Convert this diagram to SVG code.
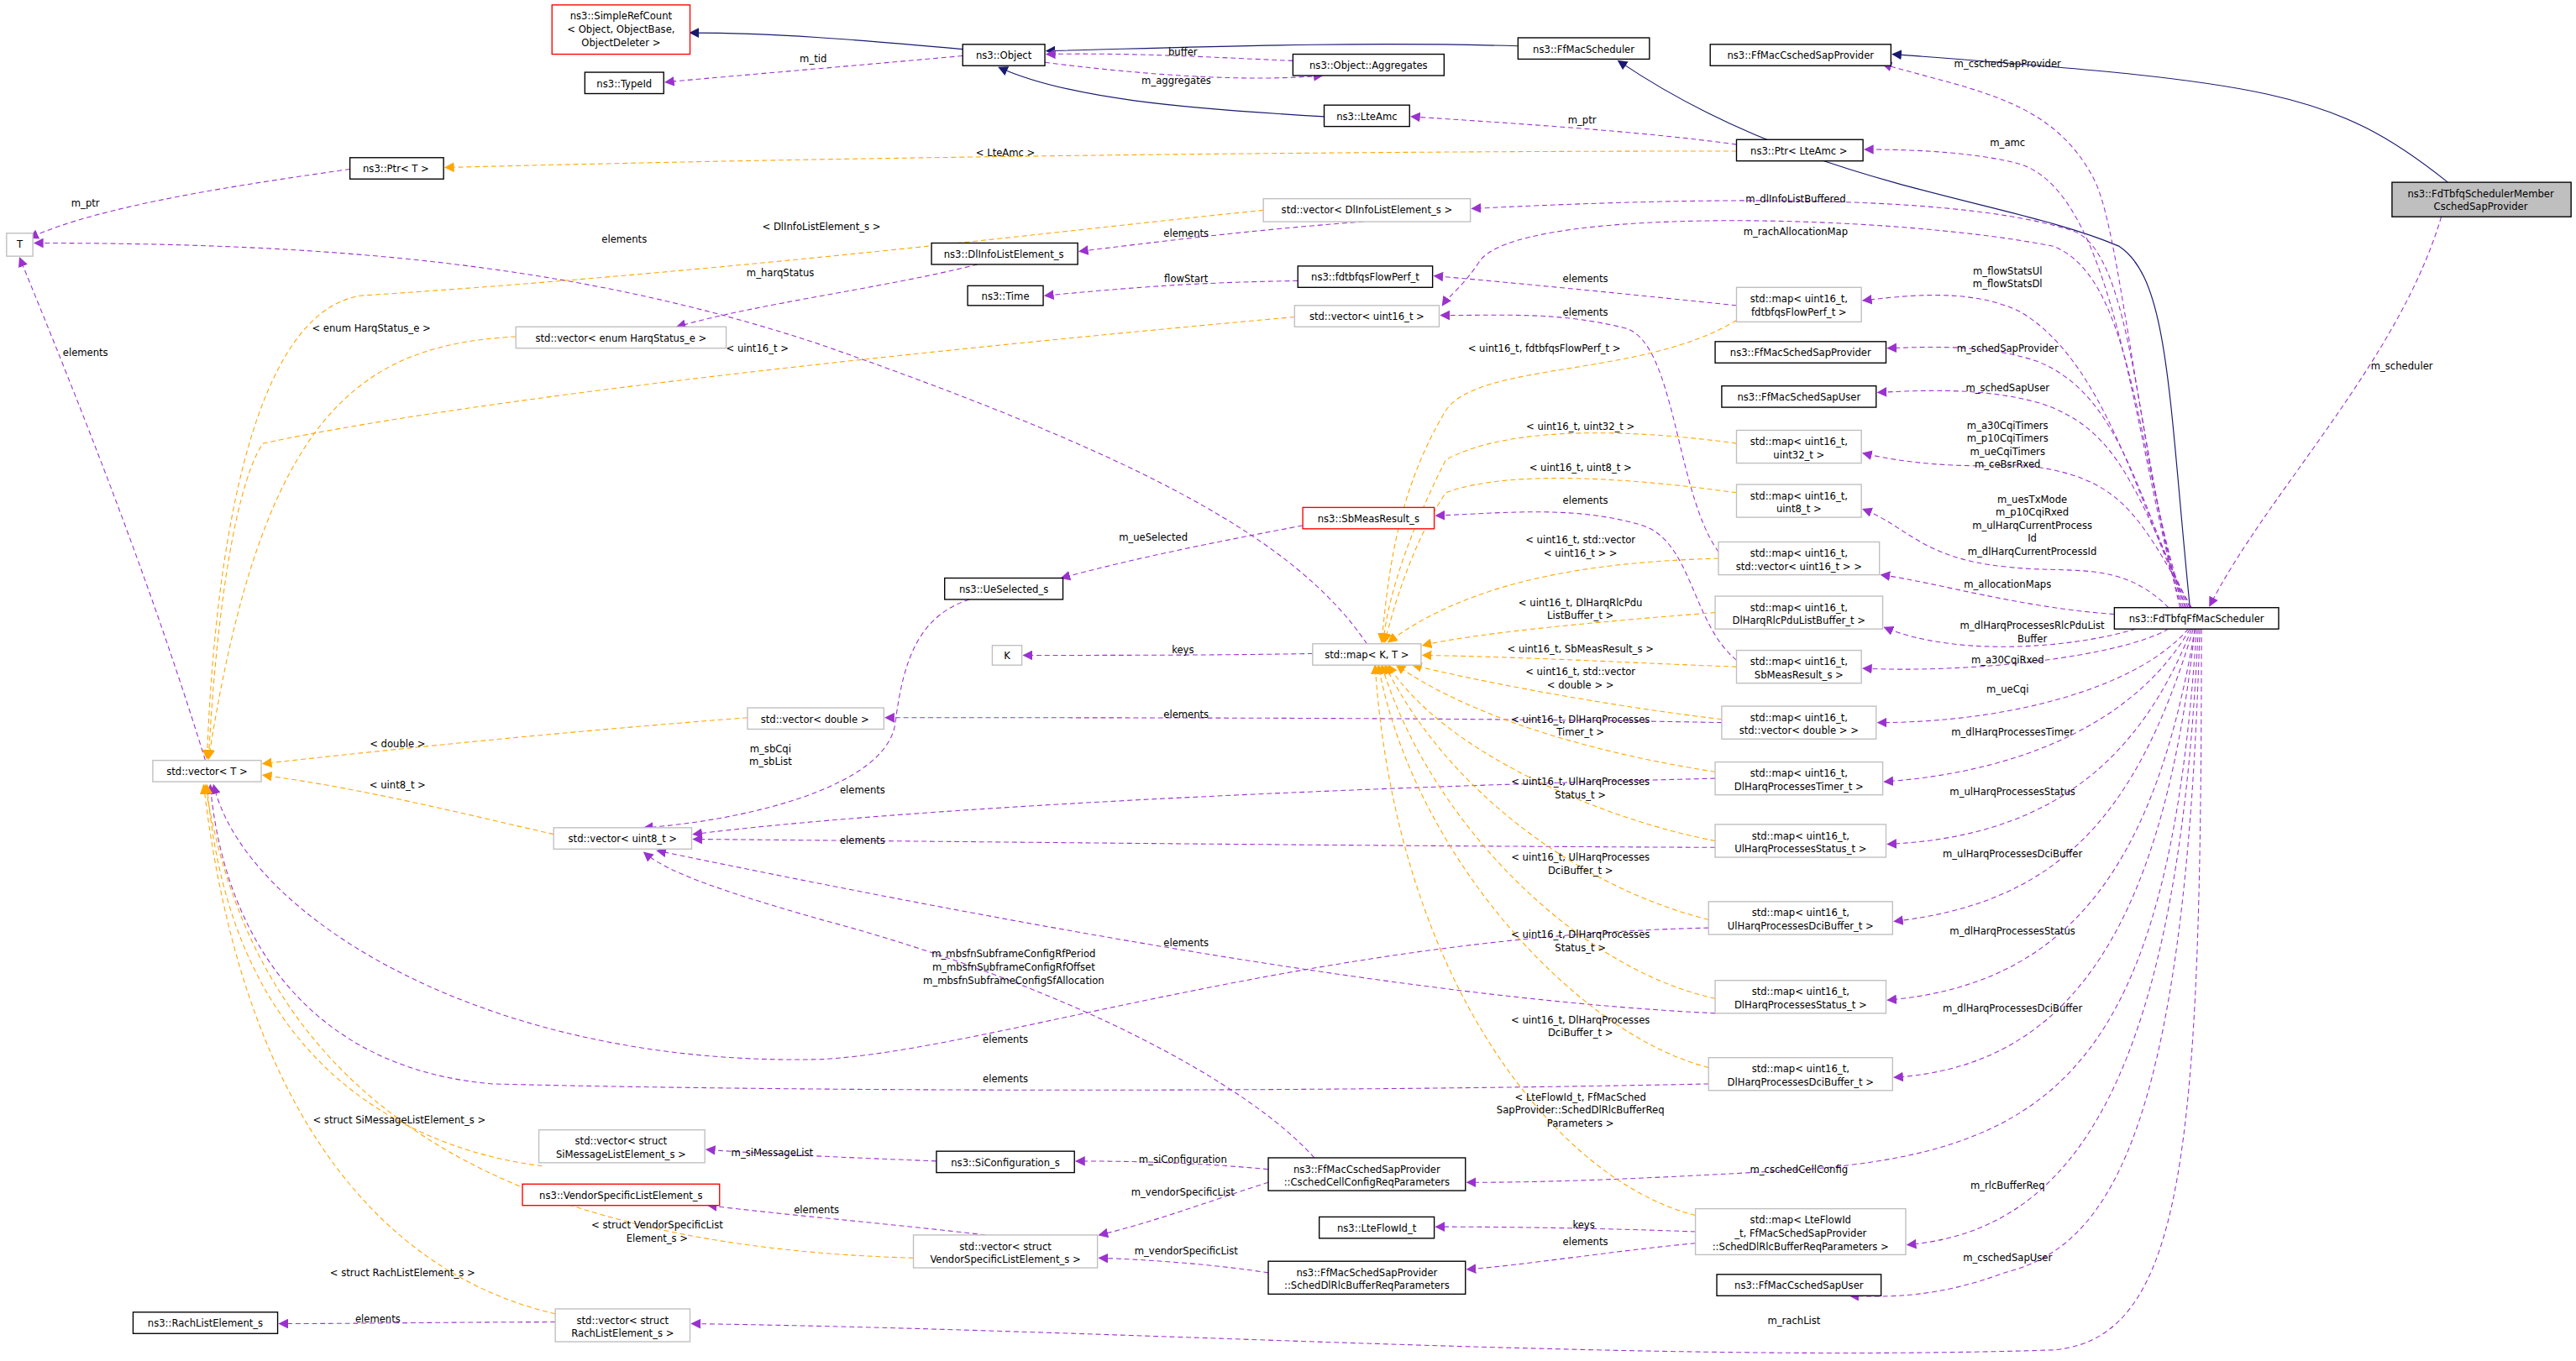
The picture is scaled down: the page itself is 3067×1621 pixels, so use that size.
<svg xmlns="http://www.w3.org/2000/svg" width="3067" height="1621" viewBox="0 0 3067 1621">
<style>
text{font-family:"DejaVu Sans Condensed","DejaVu Sans",sans-serif;font-size:6.6px;fill:#000;text-anchor:middle}
.n rect{fill:#fff;stroke:#000;stroke-width:0.7}
.g rect{fill:#fff;stroke:#bfbfbf;stroke-width:0.7}
.r rect{fill:#fff;stroke:#ff0000;stroke-width:0.7}
.m rect{fill:#bfbfbf;stroke:#000;stroke-width:0.7}
.p{fill:none;stroke:#9a32cd;stroke-width:0.55;stroke-dasharray:3,2;marker-end:url(#ap)}
.o{fill:none;stroke:#ffa500;stroke-width:0.55;stroke-dasharray:3,2;marker-end:url(#ao)}
.b{fill:none;stroke:#191970;stroke-width:0.6;marker-end:url(#ab)}
</style>
<defs>
<marker id="ap" viewBox="0 0 10 10" refX="9" refY="5" markerWidth="6" markerHeight="6" markerUnits="userSpaceOnUse" orient="auto"><path d="M0,0 L10,5 L0,10 z" fill="#9a32cd"/></marker>
<marker id="ao" viewBox="0 0 10 10" refX="9" refY="5" markerWidth="6" markerHeight="6" markerUnits="userSpaceOnUse" orient="auto"><path d="M0,0 L10,5 L0,10 z" fill="#ffa500"/></marker>
<marker id="ab" viewBox="0 0 10 10" refX="9" refY="5" markerWidth="6" markerHeight="6" markerUnits="userSpaceOnUse" orient="auto"><path d="M0,0 L10,5 L0,10 z" fill="#191970"/></marker>
</defs>
<rect width="3067" height="1621" fill="#fff"/>
<g transform="scale(1.956)">
<g id="connectors">
<path class="b" d="M586,30 C520,24 470,20 420,20"/>
<path class="b" d="M924,28 C820,25 720,29 637,31"/>
<path class="b" d="M806,71 C720,66 650,60 608,41"/>
<path class="b" d="M1333,370 C1320,240 1320,170 1290,150 C1220,120 1100,115 985,37"/>
<path class="b" d="M1490,111 C1420,55 1380,50 1152,33"/>
<path class="p" d="M1486,132 C1460,220 1380,300 1345,369"/>
<path class="p" d="M586,34 C520,40 460,45 405,50"/>
<path class="p" d="M787,37 C740,35 690,32 637,33"/>
<path class="p" d="M636,38 C700,46 760,50 805,46"/>
<path class="p" d="M1057,88 C1000,80 920,75 859,71"/>
<path class="p" d="M213,103 C150,112 60,125 18,145"/>
<path class="p" d="M1327,370 C1300,260 1290,140 1275,110 C1250,60 1200,55 1146,39"/>
<path class="p" d="M1328,370 C1300,280 1290,120 1230,100 C1200,92 1160,91 1135,91"/>
<path class="p" d="M1329,370 C1300,280 1300,150 1260,140 C1180,115 1000,122 896,127"/>
<path class="p" d="M1330,370 C1300,280 1300,170 1250,150 C1150,130 920,125 900,160 C890,175 882,180 878,186"/>
<path class="p" d="M1331,370 C1300,300 1280,220 1230,190 C1200,175 1160,180 1134,183"/>
<path class="p" d="M1332,370 C1300,300 1290,240 1240,220 C1210,210 1180,211 1149,212"/>
<path class="p" d="M1333,370 C1300,300 1290,260 1240,245 C1210,237 1180,237 1143,239"/>
<path class="p" d="M1334,370 C1300,310 1290,290 1230,283 C1190,285 1160,282 1134,276"/>
<path class="p" d="M1320,370 C1290,340 1260,350 1220,345 C1170,340 1160,320 1134,310"/>
<path class="p" d="M1287,374 C1230,370 1180,355 1145,350"/>
<path class="p" d="M1300,383 C1260,395 1190,400 1147,382"/>
<path class="p" d="M1320,383 C1290,400 1200,410 1134,407"/>
<path class="p" d="M1332,383 C1300,420 1220,440 1143,440"/>
<path class="p" d="M1333,383 C1300,440 1230,470 1147,476"/>
<path class="p" d="M1334,383 C1300,470 1240,510 1149,514"/>
<path class="p" d="M1335,383 C1300,500 1250,550 1153,561"/>
<path class="p" d="M1336,383 C1310,540 1250,600 1149,609"/>
<path class="p" d="M1336,383 C1315,580 1250,650 1153,656"/>
<path class="p" d="M1337,383 C1320,650 1250,700 1100,712 C1000,718 940,720 893,720"/>
<path class="p" d="M1338,383 C1325,680 1250,750 1161,758"/>
<path class="p" d="M1339,383 C1330,700 1280,760 1220,775 C1180,790 1150,790 1126,789"/>
<path class="p" d="M1340,383 C1340,700 1330,815 1250,822 C1000,830 700,810 421,806"/>
<path class="p" d="M1057,186 C1000,180 920,172 873,168"/>
<path class="p" d="M790,171 C720,172 680,176 636,180"/>
<path class="p" d="M830,135 C760,140 700,148 657,153"/>
<path class="p" d="M595,161 C540,175 460,185 412,199"/>
<path class="p" d="M1046,336 C1020,300 1020,210 990,200 C950,190 920,192 877,192"/>
<path class="p" d="M1057,402 C1030,380 1030,330 1000,320 C960,308 920,312 874,314"/>
<path class="p" d="M793,320 C740,330 690,340 646,352"/>
<path class="p" d="M799,398 C740,399 680,399 623,399"/>
<path class="p" d="M832,392 C790,330 700,280 500,210 C350,160 200,148 21,148"/>
<path class="p" d="M590,365 C560,375 550,400 545,440 C540,480 450,500 392,504"/>
<path class="p" d="M1048,440 C900,437 700,437 539,437"/>
<path class="p" d="M1044,474 C800,480 550,492 422,508"/>
<path class="p" d="M1044,516 C800,515 550,512 422,511"/>
<path class="p" d="M1044,617 C900,610 700,580 400,518"/>
<path class="p" d="M1040,565 C800,570 600,640 500,645 C300,650 150,560 130,478"/>
<path class="p" d="M1040,660 C800,665 500,665 300,660 C180,650 135,560 128,478"/>
<path class="p" d="M125,463 C90,350 50,250 12,157"/>
<path class="p" d="M570,707 C520,705 470,703 430,700"/>
<path class="p" d="M772,712 C730,708 690,707 655,707"/>
<path class="p" d="M800,705 C760,660 650,600 500,560 C430,540 405,530 392,519"/>
<path class="p" d="M772,720 C740,730 700,745 669,752"/>
<path class="p" d="M772,775 C740,770 700,767 669,766"/>
<path class="p" d="M600,752 C540,745 480,740 431,734"/>
<path class="p" d="M1032,750 C980,748 920,747 874,747"/>
<path class="p" d="M1032,757 C980,762 930,770 893,773"/>
<path class="p" d="M338,805 C280,805 220,806 170,806"/>
<path class="o" d="M1057,92 C800,92 500,96 271,102"/>
<path class="o" d="M769,128 C650,140 450,165 220,180 C150,190 130,350 126,462"/>
<path class="o" d="M314,205 C220,210 160,250 127,462"/>
<path class="o" d="M788,193 C600,210 300,240 160,270 C140,300 130,400 127,462"/>
<path class="o" d="M455,437 C350,445 250,455 160,465"/>
<path class="o" d="M337,508 C280,495 220,480 160,472"/>
<path class="o" d="M330,710 C250,700 140,650 126,478"/>
<path class="o" d="M556,766 C350,760 160,700 125,478"/>
<path class="o" d="M338,800 C250,780 150,700 124,478"/>
<path class="o" d="M1057,195 C1000,230 900,220 880,250 C850,300 845,350 841,391"/>
<path class="o" d="M1057,270 C1000,262 920,258 880,280 C860,320 845,360 842,391"/>
<path class="o" d="M1057,300 C1000,292 920,285 880,300 C860,330 848,370 843,391"/>
<path class="o" d="M1046,340 C980,342 900,350 845,391"/>
<path class="o" d="M1044,373 C980,378 900,385 866,393"/>
<path class="o" d="M1057,406 C1000,404 930,400 866,399"/>
<path class="o" d="M1048,438 C980,430 900,415 860,405"/>
<path class="o" d="M1044,470 C980,460 900,440 850,405"/>
<path class="o" d="M1044,512 C980,500 880,460 845,405"/>
<path class="o" d="M1040,560 C960,540 880,480 843,405"/>
<path class="o" d="M1044,608 C960,590 870,500 841,405"/>
<path class="o" d="M1040,650 C960,630 860,520 839,405"/>
<path class="o" d="M1032,740 C950,720 850,600 837,405"/>
</g>
<g id="labels">
<text x="495" y="38">m_tid</text>
<text x="720" y="34">buffer</text>
<text x="716" y="51">m_aggregates</text>
<text x="963" y="75">m_ptr</text>
<text x="52" y="126">m_ptr</text>
<text x="1222" y="41">m_cschedSapProvider</text>
<text x="1222" y="89">m_amc</text>
<text x="1093" y="123">m_dlInfoListBuffered</text>
<text x="1093" y="143">m_rachAllocationMap</text>
<text x="1222" y="167">m_flowStatsUl</text>
<text x="1222" y="175">m_flowStatsDl</text>
<text x="1222" y="214">m_schedSapProvider</text>
<text x="1222" y="238">m_schedSapUser</text>
<text x="1222" y="261">m_a30CqiTimers</text>
<text x="1222" y="269">m_p10CqiTimers</text>
<text x="1222" y="277">m_ueCqiTimers</text>
<text x="1222" y="285">m_ceBsrRxed</text>
<text x="1237" y="306">m_uesTxMode</text>
<text x="1237" y="314">m_p10CqiRxed</text>
<text x="1237" y="322">m_ulHarqCurrentProcess</text>
<text x="1237" y="330">Id</text>
<text x="1237" y="338">m_dlHarqCurrentProcessId</text>
<text x="1222" y="358">m_allocationMaps</text>
<text x="1237" y="383">m_dlHarqProcessesRlcPduList</text>
<text x="1237" y="391">Buffer</text>
<text x="1222" y="404">m_a30CqiRxed</text>
<text x="1222" y="422">m_ueCqi</text>
<text x="1225" y="448">m_dlHarqProcessesTimer</text>
<text x="1225" y="484">m_ulHarqProcessesStatus</text>
<text x="1225" y="522">m_ulHarqProcessesDciBuffer</text>
<text x="1225" y="569">m_dlHarqProcessesStatus</text>
<text x="1225" y="616">m_dlHarqProcessesDciBuffer</text>
<text x="1095" y="714">m_cschedCellConfig</text>
<text x="1222" y="724">m_rlcBufferReq</text>
<text x="1222" y="768">m_cschedSapUser</text>
<text x="1092" y="806">m_rachList</text>
<text x="1462" y="225">m_scheduler</text>
<text x="965" y="172">elements</text>
<text x="722" y="172">flowStart</text>
<text x="722" y="144">elements</text>
<text x="475" y="168">m_harqStatus</text>
<text x="965" y="192">elements</text>
<text x="965" y="307">elements</text>
<text x="702" y="329">m_ueSelected</text>
<text x="720" y="398">keys</text>
<text x="380" y="148">elements</text>
<text x="469" y="458">m_sbCqi</text>
<text x="469" y="466">m_sbList</text>
<text x="722" y="437">elements</text>
<text x="525" y="483">elements</text>
<text x="525" y="514">elements</text>
<text x="722" y="576">elements</text>
<text x="612" y="635">elements</text>
<text x="612" y="659">elements</text>
<text x="52" y="217">elements</text>
<text x="470" y="704">m_siMessageList</text>
<text x="720" y="708">m_siConfiguration</text>
<text x="617" y="583">m_mbsfnSubframeConfigRfPeriod</text>
<text x="617" y="591">m_mbsfnSubframeConfigRfOffset</text>
<text x="617" y="599">m_mbsfnSubframeConfigSfAllocation</text>
<text x="720" y="728">m_vendorSpecificList</text>
<text x="722" y="764">m_vendorSpecificList</text>
<text x="497" y="739">elements</text>
<text x="964" y="748">keys</text>
<text x="965" y="758">elements</text>
<text x="230" y="805">elements</text>
<text x="612" y="95">&lt; LteAmc &gt;</text>
<text x="500" y="140">&lt; DlInfoListElement_s &gt;</text>
<text x="226" y="202">&lt; enum HarqStatus_e &gt;</text>
<text x="461" y="214">&lt; uint16_t &gt;</text>
<text x="242" y="455">&lt; double &gt;</text>
<text x="242" y="480">&lt; uint8_t &gt;</text>
<text x="243" y="684">&lt; struct SiMessageListElement_s &gt;</text>
<text x="400" y="748">&lt; struct VendorSpecificList</text>
<text x="400" y="756">Element_s &gt;</text>
<text x="245" y="777">&lt; struct RachListElement_s &gt;</text>
<text x="940" y="214">&lt; uint16_t, fdtbfqsFlowPerf_t &gt;</text>
<text x="962" y="262">&lt; uint16_t, uint32_t &gt;</text>
<text x="962" y="287">&lt; uint16_t, uint8_t &gt;</text>
<text x="962" y="331">&lt; uint16_t, std::vector</text>
<text x="962" y="339">&lt; uint16_t &gt; &gt;</text>
<text x="962" y="369">&lt; uint16_t, DlHarqRlcPdu</text>
<text x="962" y="377">ListBuffer_t &gt;</text>
<text x="962" y="397">&lt; uint16_t, SbMeasResult_s &gt;</text>
<text x="962" y="411">&lt; uint16_t, std::vector</text>
<text x="962" y="419">&lt; double &gt; &gt;</text>
<text x="962" y="440">&lt; uint16_t, DlHarqProcesses</text>
<text x="962" y="448">Timer_t &gt;</text>
<text x="962" y="478">&lt; uint16_t, UlHarqProcesses</text>
<text x="962" y="486">Status_t &gt;</text>
<text x="962" y="524">&lt; uint16_t, UlHarqProcesses</text>
<text x="962" y="532">DciBuffer_t &gt;</text>
<text x="962" y="571">&lt; uint16_t, DlHarqProcesses</text>
<text x="962" y="579">Status_t &gt;</text>
<text x="962" y="623">&lt; uint16_t, DlHarqProcesses</text>
<text x="962" y="631">DciBuffer_t &gt;</text>
<text x="962" y="670">&lt; LteFlowId_t, FfMacSched</text>
<text x="962" y="678">SapProvider::SchedDlRlcBufferReq</text>
<text x="962" y="686">Parameters &gt;</text>
</g>
<g id="n1" class="r"><rect x="336" y="3" width="84" height="30"/><text x="378" y="12">ns3::SimpleRefCount</text><text x="378" y="20">&lt; Object, ObjectBase,</text><text x="378" y="28">ObjectDeleter &gt;</text></g>
<g id="n2" class="n"><rect x="356" y="44" width="48" height="13"/><text x="380" y="53">ns3::TypeId</text></g>
<g id="n3" class="n"><rect x="586" y="27" width="50" height="13"/><text x="611" y="36">ns3::Object</text></g>
<g id="n4" class="n"><rect x="787" y="33" width="92" height="13"/><text x="833" y="42">ns3::Object::Aggregates</text></g>
<g id="n5" class="n"><rect x="806" y="64" width="52" height="13"/><text x="832" y="73">ns3::LteAmc</text></g>
<g id="n6" class="n"><rect x="924" y="23" width="80" height="13"/><text x="964" y="32">ns3::FfMacScheduler</text></g>
<g id="n7" class="n"><rect x="1041" y="27" width="110" height="13"/><text x="1096" y="36">ns3::FfMacCschedSapProvider</text></g>
<g id="n8" class="m"><rect x="1456" y="111" width="109" height="21"/><text x="1510" y="120">ns3::FdTbfqSchedulerMember</text><text x="1510" y="128">CschedSapProvider</text></g>
<g id="n9" class="n"><rect x="1057" y="85" width="77" height="13"/><text x="1095" y="94">ns3::Ptr&lt; LteAmc &gt;</text></g>
<g id="n10" class="n"><rect x="213" y="96" width="57" height="13"/><text x="241" y="105">ns3::Ptr&lt; T &gt;</text></g>
<g id="n11" class="g"><rect x="4" y="142" width="16" height="14"/><text x="12" y="151">T</text></g>
<g id="n12" class="g"><rect x="769" y="121" width="126" height="14"/><text x="832" y="130">std::vector&lt; DlInfoListElement_s &gt;</text></g>
<g id="n13" class="n"><rect x="567" y="148" width="89" height="13"/><text x="611" y="157">ns3::DlInfoListElement_s</text></g>
<g id="n14" class="n"><rect x="790" y="162" width="82" height="13"/><text x="831" y="171">ns3::fdtbfqsFlowPerf_t</text></g>
<g id="n15" class="n"><rect x="589" y="174" width="46" height="12"/><text x="612" y="182.5">ns3::Time</text></g>
<g id="n16" class="g"><rect x="788" y="186" width="88" height="13"/><text x="832" y="195">std::vector&lt; uint16_t &gt;</text></g>
<g id="n17" class="g"><rect x="314" y="199" width="128" height="13"/><text x="378" y="208">std::vector&lt; enum HarqStatus_e &gt;</text></g>
<g id="n18" class="g"><rect x="1057" y="175" width="76" height="21"/><text x="1095" y="184">std::map&lt; uint16_t,</text><text x="1095" y="192">fdtbfqsFlowPerf_t &gt;</text></g>
<g id="n19" class="n"><rect x="1044" y="208" width="104" height="13"/><text x="1096" y="217">ns3::FfMacSchedSapProvider</text></g>
<g id="n20" class="n"><rect x="1048" y="235" width="94" height="13"/><text x="1095" y="244">ns3::FfMacSchedSapUser</text></g>
<g id="n21" class="g"><rect x="1057" y="262" width="76" height="20"/><text x="1095" y="271">std::map&lt; uint16_t,</text><text x="1095" y="279">uint32_t &gt;</text></g>
<g id="n22" class="g"><rect x="1057" y="295" width="76" height="20"/><text x="1095" y="304">std::map&lt; uint16_t,</text><text x="1095" y="312">uint8_t &gt;</text></g>
<g id="n23" class="r"><rect x="793" y="309" width="80" height="13"/><text x="833" y="318">ns3::SbMeasResult_s</text></g>
<g id="n24" class="n"><rect x="575" y="352" width="72" height="13"/><text x="611" y="361">ns3::UeSelected_s</text></g>
<g id="n25" class="g"><rect x="1046" y="330" width="98" height="20"/><text x="1095" y="339">std::map&lt; uint16_t,</text><text x="1095" y="347">std::vector&lt; uint16_t &gt; &gt;</text></g>
<g id="n26" class="n"><rect x="1287" y="370" width="100" height="13"/><text x="1337" y="379">ns3::FdTbfqFfMacScheduler</text></g>
<g id="n27" class="g"><rect x="1044" y="363" width="102" height="20"/><text x="1095" y="372">std::map&lt; uint16_t,</text><text x="1095" y="380">DlHarqRlcPduListBuffer_t &gt;</text></g>
<g id="n28" class="g"><rect x="799" y="392" width="66" height="13"/><text x="832" y="401">std::map&lt; K, T &gt;</text></g>
<g id="n29" class="g"><rect x="604" y="393" width="18" height="12"/><text x="613" y="401.5">K</text></g>
<g id="n30" class="g"><rect x="1057" y="396" width="76" height="20"/><text x="1095" y="405">std::map&lt; uint16_t,</text><text x="1095" y="413">SbMeasResult_s &gt;</text></g>
<g id="n31" class="g"><rect x="455" y="431" width="83" height="13"/><text x="496" y="440">std::vector&lt; double &gt;</text></g>
<g id="n32" class="g"><rect x="1048" y="430" width="94" height="20"/><text x="1095" y="439">std::map&lt; uint16_t,</text><text x="1095" y="447">std::vector&lt; double &gt; &gt;</text></g>
<g id="n33" class="g"><rect x="93" y="463" width="66" height="13"/><text x="126" y="472">std::vector&lt; T &gt;</text></g>
<g id="n34" class="g"><rect x="1044" y="464" width="102" height="20"/><text x="1095" y="473">std::map&lt; uint16_t,</text><text x="1095" y="481">DlHarqProcessesTimer_t &gt;</text></g>
<g id="n35" class="g"><rect x="337" y="504" width="84" height="13"/><text x="379" y="513">std::vector&lt; uint8_t &gt;</text></g>
<g id="n36" class="g"><rect x="1044" y="502" width="104" height="20"/><text x="1096" y="511">std::map&lt; uint16_t,</text><text x="1096" y="519">UlHarqProcessesStatus_t &gt;</text></g>
<g id="n37" class="g"><rect x="1040" y="549" width="112" height="20"/><text x="1096" y="558">std::map&lt; uint16_t,</text><text x="1096" y="566">UlHarqProcessesDciBuffer_t &gt;</text></g>
<g id="n38" class="g"><rect x="1044" y="597" width="104" height="20"/><text x="1096" y="606">std::map&lt; uint16_t,</text><text x="1096" y="614">DlHarqProcessesStatus_t &gt;</text></g>
<g id="n39" class="g"><rect x="1040" y="644" width="112" height="20"/><text x="1096" y="653">std::map&lt; uint16_t,</text><text x="1096" y="661">DlHarqProcessesDciBuffer_t &gt;</text></g>
<g id="n40" class="g"><rect x="328" y="688" width="101" height="20"/><text x="378" y="697">std::vector&lt; struct</text><text x="378" y="705">SiMessageListElement_s &gt;</text></g>
<g id="n41" class="n"><rect x="570" y="701" width="84" height="13"/><text x="612" y="710">ns3::SiConfiguration_s</text></g>
<g id="n42" class="n"><rect x="772" y="705" width="120" height="20"/><text x="832" y="714">ns3::FfMacCschedSapProvider</text><text x="832" y="722">::CschedCellConfigReqParameters</text></g>
<g id="n43" class="r"><rect x="318" y="721" width="120" height="13"/><text x="378" y="730">ns3::VendorSpecificListElement_s</text></g>
<g id="n44" class="n"><rect x="803" y="741" width="70" height="13"/><text x="838" y="750">ns3::LteFlowId_t</text></g>
<g id="n45" class="g"><rect x="1032" y="736" width="128" height="28"/><text x="1096" y="745">std::map&lt; LteFlowId</text><text x="1096" y="753">_t, FfMacSchedSapProvider</text><text x="1096" y="761">::SchedDlRlcBufferReqParameters &gt;</text></g>
<g id="n46" class="g"><rect x="556" y="752" width="112" height="20"/><text x="612" y="761">std::vector&lt; struct</text><text x="612" y="769">VendorSpecificListElement_s &gt;</text></g>
<g id="n47" class="n"><rect x="772" y="768" width="120" height="20"/><text x="832" y="777">ns3::FfMacSchedSapProvider</text><text x="832" y="785">::SchedDlRlcBufferReqParameters</text></g>
<g id="n48" class="n"><rect x="1045" y="776" width="100" height="13"/><text x="1095" y="785">ns3::FfMacCschedSapUser</text></g>
<g id="n49" class="n"><rect x="81" y="799" width="88" height="13"/><text x="125" y="808">ns3::RachListElement_s</text></g>
<g id="n50" class="g"><rect x="338" y="797" width="82" height="20"/><text x="379" y="806">std::vector&lt; struct</text><text x="379" y="814">RachListElement_s &gt;</text></g>
</g>
</svg>
